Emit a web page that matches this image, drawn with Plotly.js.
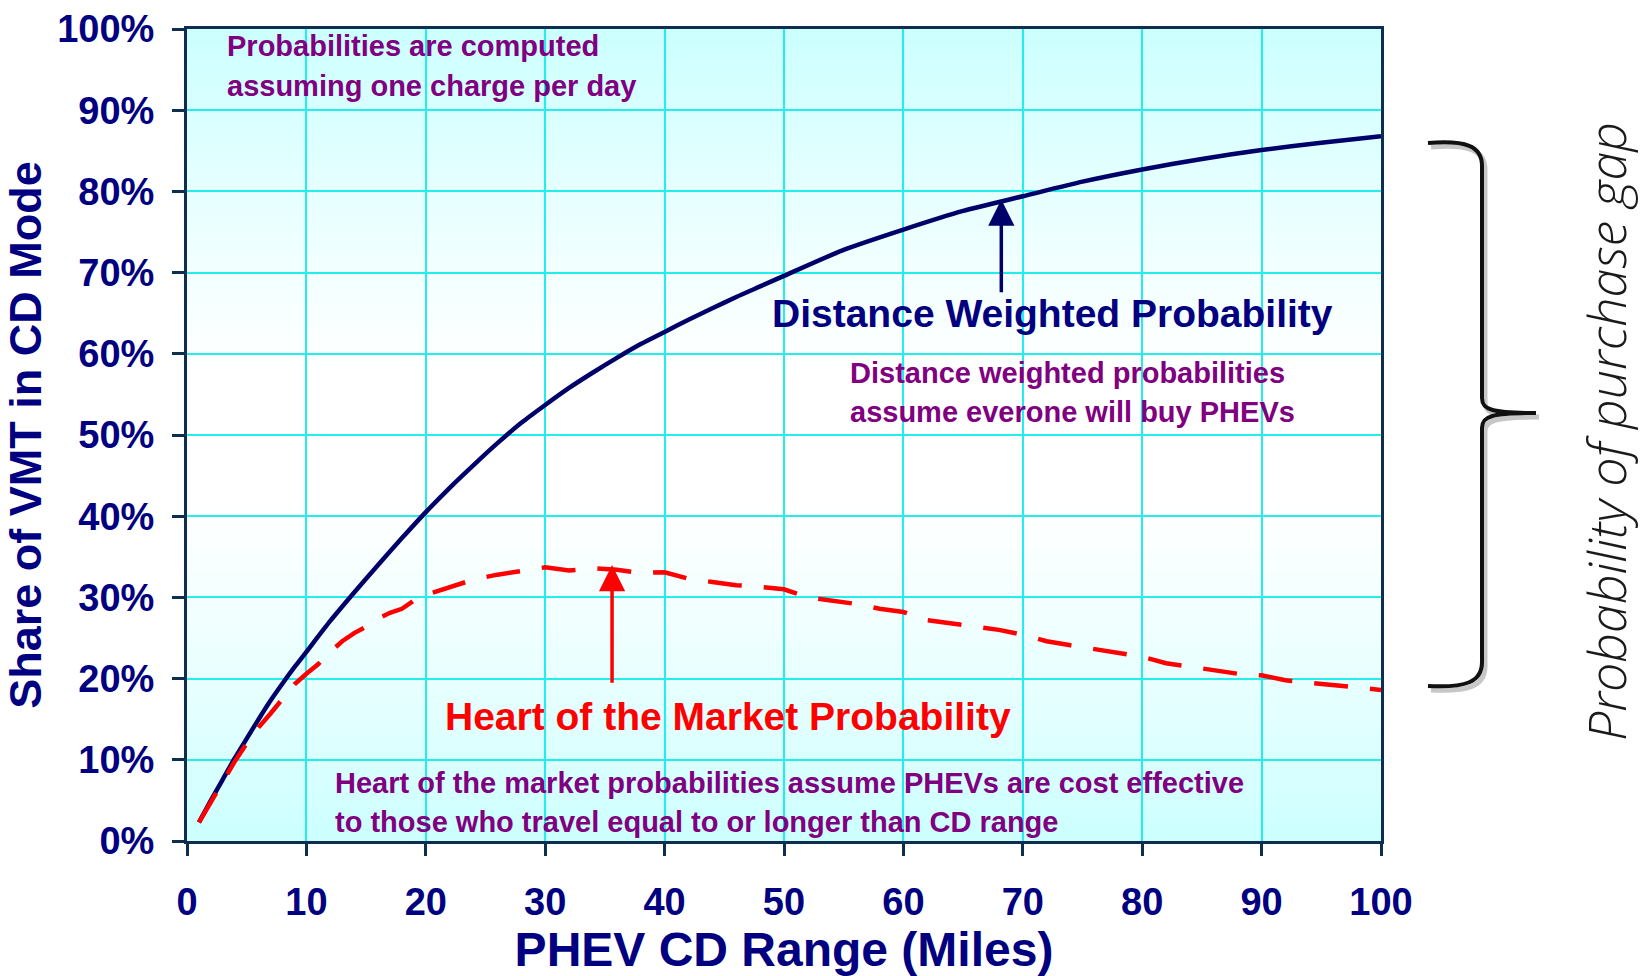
<!DOCTYPE html>
<html>
<head>
<meta charset="utf-8">
<script src="https://cdn.plot.ly/plotly-3.0.1.min.js"></script>
<style>html,body{margin:0;padding:0;background:#fff;}#chart{width:1647px;height:976px;}</style>
</head>
<body>
<div id="chart"></div>
<script>
// ---- Data ----
const cdRange = [1,2,3,4,5,6,7,8,9,10,12,14,16,18,20,22,24,26,28,30,32,34,36,38,40,42,44,46,48,50,55,60,65,70,75,80,85,90,95,100];
const distanceWeighted = [2.3,5.0,7.6,10.2,12.6,15.0,17.3,19.4,21.4,23.3,27.1,30.6,34.0,37.3,40.5,43.5,46.3,49.0,51.5,53.7,55.8,57.7,59.5,61.2,62.7,64.2,65.6,67.0,68.3,69.6,72.8,75.3,77.6,79.4,81.2,82.7,84.0,85.1,86.0,86.8];

const cdRangeHeart = [1,2,3,4,5,6,7,8,9,10,11,12,13,14,15,16,17,18,19,20,21,22,24,26,28,30,32,34,36,38,40,42,44,46,48,50,52,54,56,58,60,62,64,66,68,70,72,74,76,78,80,82,84,86,88,90,92,94,96,98,100];
const heartOfMarket = [2.3,4.8,7.3,9.8,12.0,14.0,15.7,17.6,19.3,20.6,21.8,23.3,24.6,25.6,26.4,27.4,28.1,28.6,29.6,30.3,30.8,31.3,32.2,32.8,33.3,33.7,33.3,33.6,33.4,33.0,33.1,32.3,31.9,31.5,31.3,31.0,30.0,29.6,29.2,28.6,28.2,27.2,26.8,26.5,26.0,25.4,24.6,24.1,23.6,23.1,22.7,21.9,21.5,21.0,20.6,20.4,19.8,19.5,19.2,18.9,18.6];

const xTicks = [0,10,20,30,40,50,60,70,80,90,100];
const yTicks = [0,10,20,30,40,50,60,70,80,90,100];

// ---- Styling helpers ----
const W = 1647, H = 976;
const M = {l:187, r:266, t:29, b:135};
const PW = W - M.l - M.r, PH = H - M.t - M.b;
const px = v => ((v - M.l) / PW).toFixed(5);
const py = v => ((H - M.b - v) / PH).toFixed(5);

// background gradient bands (style only)
const stops = [[0,[204,255,255]],[0.15,[226,255,255]],[0.3,[244,255,255]],[0.42,[255,255,255]],[0.58,[255,255,255]],[0.72,[240,255,255]],[0.86,[222,255,255]],[1,[204,255,255]]];
function colAt(t){
  for(let i=0;i<stops.length-1;i++){
    const [a,ca]=stops[i],[b,cb]=stops[i+1];
    if(t>=a && t<=b){const f=(t-a)/(b-a);return 'rgb('+ca.map((c,k)=>Math.round(c+(cb[k]-c)*f)).join(',')+')';}
  }
  return 'rgb(204,255,255)';
}
const shapes = [];
const N = 100;
for(let i=0;i<N;i++){
  shapes.push({type:'rect', xref:'x domain', yref:'y domain', x0:0, x1:1, y0:i/N, y1:(i+1)/N+0.002,
    fillcolor: colAt((i+0.5)/N), line:{width:0}, layer:'below'});
}
function bracePath(dx,dy){
  const P=(x,y)=>px(x+dx)+','+py(y+dy);
  return 'M '+P(1428,143)+' C '+P(1466,140)+' '+P(1482,146)+' '+P(1482,166)+
    ' L '+P(1482,398)+' C '+P(1482,410)+' '+P(1492,413)+' '+P(1536,413)+
    ' C '+P(1492,413)+' '+P(1482,416)+' '+P(1482,428)+
    ' L '+P(1482,662)+' C '+P(1482,682)+' '+P(1466,688)+' '+P(1428,686);
}
shapes.push({type:'path', xref:'paper', yref:'paper', path:bracePath(3,4), line:{color:'rgba(0,0,0,0.22)', width:5}});
shapes.push({type:'path', xref:'paper', yref:'paper', path:bracePath(0,0), line:{color:'#111', width:4}});

const navy = '#000080';
const purple = '#800080';
const boldFont = 'Liberation Sans, Arial, sans-serif';
const noteFont = {family:boldFont, size:29, color:purple, weight:'bold'};

const traces = [
  {x: cdRange, y: distanceWeighted, type:'scatter', mode:'lines', name:'Distance Weighted Probability',
   line:{color:'#00006a', width:4.5, shape:'spline', smoothing:0.6}, hoverinfo:'x+y'},
  {x: cdRangeHeart, y: heartOfMarket, type:'scatter', mode:'lines', name:'Heart of the Market Probability',
   line:{color:'#ff0000', width:4.5, dash:'34px,22px'}, hoverinfo:'x+y'}
];

function note(x, y, text){
  return {x:x, y:y, xref:'x', yref:'y', xanchor:'left', yanchor:'middle', align:'left', showarrow:false, text:text, font:noteFont};
}

const annotations = [
  note(3.2, 97.9, 'Probabilities are computed'),
  note(3.2, 93.0, 'assuming one charge per day'),
  {x:72.5, y:65.0, xref:'x', yref:'y', xanchor:'center', yanchor:'middle', showarrow:false,
   text:'Distance Weighted Probability', font:{family:boldFont, size:39, color:navy, weight:'bold'}},
  note(55.4, 57.6, 'Distance weighted probabilities'),
  note(55.4, 52.8, 'assume everone will buy PHEVs'),
  {x:45.3, y:15.3, xref:'x', yref:'y', xanchor:'center', yanchor:'middle', showarrow:false,
   text:'Heart of the Market Probability', font:{family:boldFont, size:39, color:'#ff0000', weight:'bold'}},
  note(12.2, 7.2, 'Heart of the market probabilities assume PHEVs are cost effective'),
  note(12.2, 2.4, 'to those who travel equal to or longer than CD range'),
  // arrows
  {x:68.2, y:79.0, ax:68.2, ay:67.4, xref:'x', yref:'y', axref:'x', ayref:'y', text:'', showarrow:true,
   arrowhead:2, arrowsize:1.5, arrowwidth:3.5, arrowcolor:'#00006a'},
  {x:35.6, y:34.0, ax:35.6, ay:19.3, xref:'x', yref:'y', axref:'x', ayref:'y', text:'', showarrow:true,
   arrowhead:2, arrowsize:1.5, arrowwidth:3.5, arrowcolor:'#ff0000'},
  // side label
  {x:+px(1606), y:+py(431), xref:'paper', yref:'paper', xanchor:'center', yanchor:'middle', textangle:-90, showarrow:false,
   text:'Probability of purchase gap', font:{family:'Open Sans, Noto Sans, sans-serif', size:52, color:'#1a1a1a', weight:300, style:'italic'}}
];

const layout = {
  width:W, height:H,
  margin:M,
  paper_bgcolor:'#ffffff', plot_bgcolor:'rgba(0,0,0,0)',
  showlegend:false,
  xaxis:{range:[0,100], tickvals:xTicks, ticktext:xTicks.map(String), showgrid:true, gridcolor:'#22eeee', gridwidth:2,
    zeroline:false, showline:true, linecolor:'#0d2e4f', linewidth:3, mirror:true,
    ticks:'outside', ticklen:12, tickwidth:3, tickcolor:'#0d2e4f', ticklabelstandoff:13,
    tickfont:{family:boldFont, size:38, color:navy, weight:'bold'},
    title:{text:'PHEV CD Range (Miles)', font:{family:boldFont, size:48, color:navy, weight:'bold'}, standoff:16}},
  yaxis:{range:[0,100], tickvals:yTicks, ticktext:yTicks.map(v=>v+'%'), showgrid:true, gridcolor:'#22eeee', gridwidth:2,
    zeroline:false, showline:true, linecolor:'#0d2e4f', linewidth:3, mirror:true,
    ticks:'outside', ticklen:12, tickwidth:3, tickcolor:'#0d2e4f', ticklabelstandoff:10,
    tickfont:{family:boldFont, size:38, color:navy, weight:'bold'},
    title:{text:'Share of VMT in CD Mode', font:{family:boldFont, size:45, color:navy, weight:'bold'}, standoff:4}},
  shapes:shapes,
  annotations:annotations
};

Plotly.newPlot('chart', traces, layout, {displayModeBar:false, staticPlot:true});
</script>
</body>
</html>
